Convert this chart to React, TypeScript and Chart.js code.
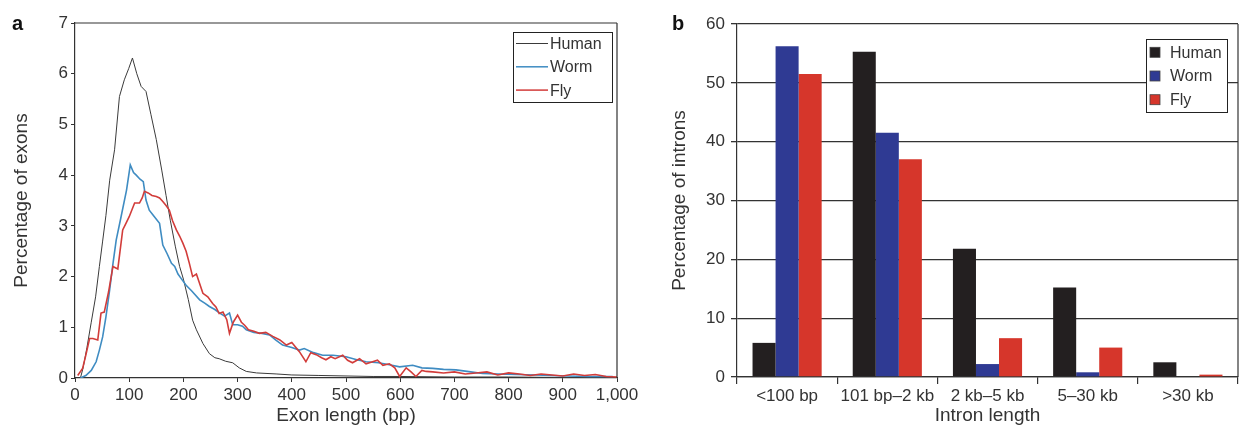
import React, { useEffect, useRef } from 'react';
import { Chart, registerables } from 'chart.js';

Chart.register(...registerables);

const FONT = "'Liberation Sans', Arial, Helvetica, sans-serif";
const TEXT = '#333333';
const AXIS = '#333333';

// ---------- Panel a: exon length distribution ----------
const exonTicks = [0, 100, 200, 300, 400, 500, 600, 700, 800, 900, 1000];
const exonYTicks = [0, 1, 2, 3, 4, 5, 6, 7];

const humanX = [10, 15, 22, 30, 38, 45, 51, 57, 64, 73, 82, 91, 99, 106, 114, 122, 131, 140, 150, 160, 168, 176, 185, 193, 200, 209, 217, 224, 236, 248, 258, 266, 278, 291, 303, 316, 335, 371, 400, 450, 500, 550, 600, 700, 800, 900, 1000];
const humanY = [0, 0.2, 0.6, 1.1, 1.6, 2.2, 2.7, 3.2, 3.9, 4.5, 5.55, 5.88, 6.1, 6.31, 6.0, 5.75, 5.65, 5.2, 4.7, 4.1, 3.6, 3.1, 2.6, 2.2, 1.95, 1.55, 1.14, 0.95, 0.68, 0.48, 0.4, 0.38, 0.33, 0.3, 0.2, 0.13, 0.1, 0.08, 0.06, 0.05, 0.04, 0.03, 0.03, 0.02, 0.02, 0.01, 0.01];

const wormX = [10, 20, 30, 39, 45, 51, 57, 64, 70, 76, 85, 95, 102, 108, 113, 120, 126, 131, 137, 145, 156, 162, 170, 178, 184, 190, 196, 205, 215, 230, 240, 248, 258, 267, 276, 285, 291, 300, 309, 316, 330, 345, 359, 370, 383, 400, 414, 423, 440, 457, 476, 500, 520, 537, 560, 580, 599, 623, 640, 660, 680, 703, 730, 752, 780, 814, 850, 906, 950, 992];
const wormY = [0, 0.05, 0.15, 0.32, 0.55, 0.81, 1.2, 1.74, 2.25, 2.72, 3.18, 3.7, 4.2, 4.05, 4.0, 3.92, 3.87, 3.51, 3.31, 3.2, 3.05, 2.62, 2.45, 2.26, 2.2, 2.05, 1.96, 1.83, 1.72, 1.54, 1.47, 1.41, 1.35, 1.28, 1.22, 1.28, 1.05, 1.05, 1.02, 0.95, 0.9, 0.88, 0.85, 0.75, 0.65, 0.6, 0.55, 0.58, 0.5, 0.45, 0.45, 0.42, 0.36, 0.32, 0.3, 0.26, 0.22, 0.25, 0.2, 0.19, 0.17, 0.16, 0.12, 0.09, 0.08, 0.07, 0.06, 0.04, 0.03, 0.03];

const flyX = [5, 14, 20, 27, 33, 42, 48, 54, 62, 70, 79, 88, 94, 100, 110, 119, 124, 128, 135, 142, 150, 156, 162, 168, 174, 180, 187, 193, 199, 205, 211, 217, 224, 236, 245, 254, 260, 266, 273, 280, 285, 292, 300, 307, 313, 320, 330, 340, 352, 365, 378, 390, 400, 414, 426, 435, 445, 455, 463, 472, 480, 494, 503, 512, 525, 537, 549, 558, 568, 580, 590, 599, 611, 620, 629, 640, 648, 660, 680, 700, 720, 740, 760, 780, 800, 820, 840, 860, 880, 900, 920, 940, 960, 980, 1000];
const flyY = [0.05, 0.19, 0.45, 0.78, 0.78, 0.75, 1.28, 1.3, 1.7, 2.2, 2.15, 2.92, 3.05, 3.18, 3.45, 3.45, 3.55, 3.68, 3.65, 3.6, 3.58, 3.55, 3.48, 3.4, 3.31, 3.1, 2.92, 2.8, 2.66, 2.5, 2.26, 2.0, 2.05, 1.67, 1.6, 1.47, 1.4, 1.27, 1.3, 1.15, 0.88, 1.1, 1.24, 1.1, 1.04, 0.95, 0.92, 0.88, 0.9, 0.82, 0.75, 0.65, 0.7, 0.52, 0.32, 0.5, 0.46, 0.4, 0.36, 0.42, 0.38, 0.45, 0.35, 0.3, 0.38, 0.28, 0.32, 0.35, 0.25, 0.28, 0.2, 0.03, 0.2, 0.12, 0.03, 0.15, 0.13, 0.12, 0.1, 0.12, 0.08, 0.1, 0.12, 0.06, 0.1, 0.08, 0.05, 0.08, 0.06, 0.04, 0.08, 0.05, 0.07, 0.03, 0.02];

// ---------- Panel b: intron length distribution ----------
const intronCategories = ['<100 bp', '101 bp\u20132 kb', '2 kb\u20135 kb', '5\u201330 kb', '>30 kb'];
const intronHuman = [5.8, 55.3, 21.8, 15.2, 2.5];
const intronWorm = [56.2, 41.5, 2.2, 0.8, 0];
const intronFly = [51.5, 37.0, 6.6, 5.0, 0.4];
const intronYTicks = [0, 10, 20, 30, 40, 50, 60];

const seriesNames = ['Human', 'Worm', 'Fly'];
const lineColors = ['#3a3a3a', '#3f8cc2', '#d23c3a'];
const barColors = ['#231f20', '#2f3a93', '#d6362b'];

const zip = (xs: number[], ys: number[]) => xs.map((x, i) => ({ x, y: ys[i] }));

function makeLegendPlugin(kind: 'line' | 'box', colors: string[], cfg: any) {
  return {
    id: 'boxLegend_' + kind,
    afterDraw(chart: any) {
      const { ctx, chartArea } = chart;
      const x0 = chartArea.right - cfg.right - cfg.width;
      const y0 = chartArea.top + cfg.top;
      ctx.save();
      ctx.fillStyle = '#ffffff';
      ctx.fillRect(x0, y0, cfg.width, cfg.height);
      ctx.strokeStyle = '#222';
      ctx.lineWidth = 1;
      ctx.strokeRect(Math.round(x0) + 0.5, Math.round(y0) + 0.5, cfg.width, cfg.height);
      seriesNames.forEach((name, i) => {
        const cy = y0 + cfg.firstRow + i * cfg.rowGap;
        if (kind === 'line') {
          ctx.strokeStyle = colors[i];
          ctx.lineWidth = i === 0 ? 1 : 1.5;
          ctx.beginPath();
          ctx.moveTo(x0 + 3, cy);
          ctx.lineTo(x0 + 35, cy);
          ctx.stroke();
        } else {
          ctx.fillStyle = colors[i];
          ctx.fillRect(x0 + 4, cy - 5, 10, 10);
          ctx.strokeStyle = '#444';
          ctx.lineWidth = 0.8;
          ctx.strokeRect(x0 + 4, cy - 5, 10, 10);
        }
        ctx.fillStyle = TEXT;
        ctx.font = `16px ${FONT}`;
        ctx.textBaseline = 'middle';
        ctx.textAlign = 'left';
        ctx.fillText(name, x0 + cfg.textX, cy + 1);
      });
      ctx.restore();
    },
  };
}

function makeFramePlugin(full: boolean) {
  return {
    id: 'frame',
    afterDatasetsDraw(chart: any) {
      const { ctx, chartArea } = chart;
      ctx.save();
      ctx.strokeStyle = AXIS;
      ctx.lineWidth = 1.2;
      ctx.beginPath();
      if (full) {
        ctx.moveTo(chartArea.left, chartArea.top);
        ctx.lineTo(chartArea.right, chartArea.top);
      }
      ctx.moveTo(chartArea.right, chartArea.top);
      ctx.lineTo(chartArea.right, chartArea.bottom);
      ctx.stroke();
      ctx.restore();
    },
  };
}

function makeLetterPlugin(letter: string, x: number) {
  return {
    id: 'letter',
    afterDraw(chart: any) {
      const { ctx } = chart;
      ctx.save();
      ctx.fillStyle = '#111';
      ctx.font = `bold 20px ${FONT}`;
      ctx.textBaseline = 'alphabetic';
      ctx.textAlign = 'left';
      ctx.fillText(letter, x, 30);
      ctx.restore();
    },
  };
}

const tickFont = { family: FONT, size: 17 };
const titleFont = { family: FONT, size: 19 };

export default function App() {
  const leftRef = useRef<HTMLCanvasElement>(null);
  const rightRef = useRef<HTMLCanvasElement>(null);

  useEffect(() => {
    Chart.defaults.font.family = FONT;
    const left = new Chart(leftRef.current as HTMLCanvasElement, {
      type: 'line',
      data: {
        datasets: [
          { label: seriesNames[0], data: zip(humanX, humanY), borderColor: lineColors[0], borderWidth: 1, pointRadius: 0, tension: 0, order: 2 },
          { label: seriesNames[1], data: zip(wormX, wormY), borderColor: lineColors[1], borderWidth: 1.6, pointRadius: 0, tension: 0, order: 1 },
          { label: seriesNames[2], data: zip(flyX, flyY), borderColor: lineColors[2], borderWidth: 1.6, pointRadius: 0, tension: 0, order: 0 },
        ],
      },
      options: {
        responsive: false,
        animation: false,
        layout: { padding: { left: 0, right: 23, top: 23, bottom: 0 } },
        plugins: { legend: { display: false }, tooltip: { enabled: false } },
        scales: {
          x: {
            type: 'linear',
            min: exonTicks[0],
            max: exonTicks[exonTicks.length - 1],
            afterBuildTicks: (s: any) => { s.ticks = exonTicks.map((v) => ({ value: v })); },
            afterFit: (s: any) => { s.height = 49; s.paddingLeft = 0; s.paddingRight = 0; },
            ticks: {
              font: tickFont, color: TEXT, padding: 3, maxRotation: 0, autoSkip: false,
              callback: (v: any) => Number(v).toLocaleString('en-US'),
            },
            grid: { drawOnChartArea: false, drawTicks: true, tickLength: 4, color: AXIS },
            border: { color: AXIS, width: 1.2 },
            title: { display: true, text: 'Exon length (bp)', font: titleFont, color: TEXT, padding: { top: 0, bottom: 0 } },
          },
          y: {
            min: exonYTicks[0],
            max: exonYTicks[exonYTicks.length - 1],
            afterBuildTicks: (s: any) => { s.ticks = exonYTicks.map((v) => ({ value: v })); },
            afterFit: (s: any) => { s.width = 75; s.paddingTop = 0; s.paddingBottom = 0; },
            ticks: { font: tickFont, color: TEXT, padding: 3 },
            grid: { drawOnChartArea: false, drawTicks: true, tickLength: 4, color: AXIS },
            border: { color: AXIS, width: 1.2 },
            title: { display: true, text: 'Percentage of exons', font: titleFont, color: TEXT, padding: { top: 10.5, bottom: 0 } },
          },
        },
      } as any,
      plugins: [
        makeFramePlugin(true),
        makeLegendPlugin('line', lineColors, { right: 5, top: 9, width: 99, height: 70, firstRow: 11.5, rowGap: 23.3, textX: 37 }),
        makeLetterPlugin('a', 12),
      ],
    });

    const right = new Chart(rightRef.current as HTMLCanvasElement, {
      type: 'bar',
      data: {
        labels: intronCategories,
        datasets: [
          { label: seriesNames[0], data: intronHuman, backgroundColor: barColors[0] },
          { label: seriesNames[1], data: intronWorm, backgroundColor: barColors[1] },
          { label: seriesNames[2], data: intronFly, backgroundColor: barColors[2] },
        ],
      },
      options: {
        responsive: false,
        animation: false,
        datasets: { bar: { categoryPercentage: 0.69, barPercentage: 1 } },
        layout: { padding: { left: 0, right: 3, top: 24, bottom: 0 } },
        plugins: { legend: { display: false }, tooltip: { enabled: false } },
        scales: {
          x: {
            afterFit: (s: any) => { s.height = 50; s.paddingLeft = 0; s.paddingRight = 0; },
            ticks: { font: tickFont, color: TEXT, padding: 2, maxRotation: 0, autoSkip: false },
            grid: { offset: true, drawOnChartArea: false, drawTicks: true, tickLength: 7, color: AXIS, lineWidth: 1.2 },
            border: { color: AXIS, width: 1.2 },
            title: { display: true, text: 'Intron length', font: titleFont, color: TEXT, padding: { top: 0, bottom: 0 } },
          },
          y: {
            min: intronYTicks[0],
            max: intronYTicks[intronYTicks.length - 1],
            afterBuildTicks: (s: any) => { s.ticks = intronYTicks.map((v) => ({ value: v })); },
            afterFit: (s: any) => { s.width = 107; s.paddingTop = 0; s.paddingBottom = 0; },
            ticks: { font: tickFont, color: TEXT, padding: 6 },
            grid: { color: AXIS, lineWidth: 1.3, drawTicks: true, tickLength: 6 },
            border: { color: AXIS, width: 1.2 },
            title: { display: true, text: 'Percentage of introns', font: titleFont, color: TEXT, padding: { top: 38.5, bottom: 0 } },
          },
        },
      } as any,
      plugins: [
        makeFramePlugin(false),
        makeLegendPlugin('box', barColors, { right: 11, top: 15, width: 81, height: 73, firstRow: 13.3, rowGap: 23.7, textX: 24 }),
        makeLetterPlugin('b', 42),
      ],
    });

    return () => {
      left.destroy();
      right.destroy();
    };
  }, []);

  return (
    <div style={{ position: 'absolute', left: 0, top: 0, width: 1241, height: 427, background: '#ffffff', overflow: 'hidden' }}>
      <canvas ref={leftRef} width={640} height={427} style={{ position: 'absolute', left: 0, top: 0 }} />
      <canvas ref={rightRef} width={611} height={427} style={{ position: 'absolute', left: 630, top: 0 }} />
    </div>
  );
}
